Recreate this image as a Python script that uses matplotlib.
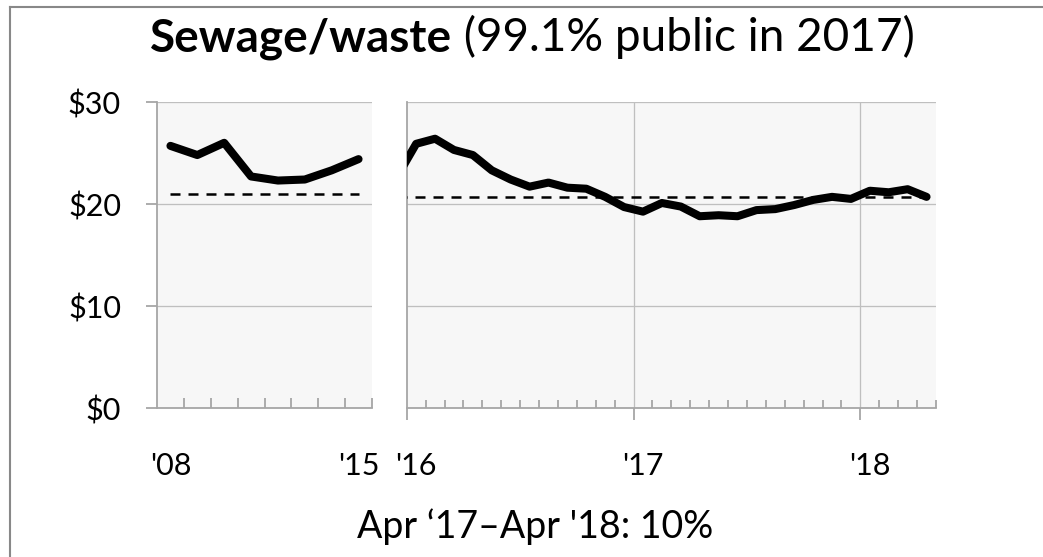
import matplotlib
matplotlib.use('Agg')
import matplotlib.pyplot as plt
from matplotlib.lines import Line2D
from matplotlib.transforms import blended_transform_factory

plt.rcParams['font.family'] = ['Lato', 'DejaVu Sans']

# ---- data ----
left_years = ['2008', '2009', '2010', '2011', '2012', '2013', '2014', '2015']
left_values = [25.7, 24.8, 26.0, 22.7, 22.3, 22.4, 23.3, 24.4]
left_avg = 21.0

right_months = ['Dec 2015',
                'Jan 2016', 'Feb 2016', 'Mar 2016', 'Apr 2016', 'May 2016', 'Jun 2016',
                'Jul 2016', 'Aug 2016', 'Sep 2016', 'Oct 2016', 'Nov 2016', 'Dec 2016',
                'Jan 2017', 'Feb 2017', 'Mar 2017', 'Apr 2017', 'May 2017', 'Jun 2017',
                'Jul 2017', 'Aug 2017', 'Sep 2017', 'Oct 2017', 'Nov 2017', 'Dec 2017',
                'Jan 2018', 'Feb 2018', 'Mar 2018', 'Apr 2018']
right_values = [22.7,
                25.9, 26.4, 25.3, 24.8, 23.3, 22.4,
                21.7, 22.1, 21.6, 21.5, 20.7, 19.7,
                19.25, 20.1, 19.75, 18.8, 18.9, 18.8,
                19.4, 19.5, 19.9, 20.4, 20.7, 20.5,
                21.3, 21.15, 21.45, 20.7]
right_avg = 20.7

y_ticks = [0, 10, 20, 30]
y_labels = ['\\$0', '\\$10', '\\$20', '\\$30']
left_xlabels = {0: "'08", 7: "'15"}
right_xlabels = {'Jan 2016': "'16", 'Jan 2017': "'17", 'Jan 2018': "'18"}
title_bold = 'Sewage/waste'
title_rest = ' (99.1% public in 2017)'
footer = "Apr \u201817\u2013Apr '18: 10%"

# ---- layout ----
W, H = 1043, 557
DPI = 100
PT = 72 / DPI  # points per pixel
fig = plt.figure(figsize=(W / DPI, H / DPI), dpi=DPI)
fig.patch.set_facecolor('white')

bg = '#f7f7f7'
gridc = '#bfbfbf'
spinec = '#a6a6a6'
lab_size = 22
title_size = 33
foot_size = 27

axL = fig.add_axes([157 / W, 1 - 408 / H, 215 / W, 306 / H])
axR = fig.add_axes([406.7 / W, 1 - 408 / H, 529.3 / W, 306 / H])

for ax in (axL, axR):
    ax.set_facecolor(bg)
    ax.set_ylim(0, 30)
    ax.set_yticks(y_ticks)
    ax.yaxis.grid(True, color=gridc, lw=1.3 * PT)
    ax.set_axisbelow(True)
    for s in ('top', 'right'):
        ax.spines[s].set_visible(False)
    for s in ('left', 'bottom'):
        ax.spines[s].set_color(spinec)
        ax.spines[s].set_linewidth(1.3)

# left panel
nL = len(left_years)
xL = [i + 0.5 for i in range(nL)]
axL.set_xlim(0, nL)
axL.set_yticklabels(y_labels, fontsize=lab_size)
axL.tick_params(axis='y', direction='out', length=11 * PT, width=1.3, color=spinec, pad=25 * PT)
axL.set_xticks([])
axL.set_xticks(list(range(1, nL + 1)), minor=True)
axL.tick_params(axis='x', which='minor', direction='in', length=10 * PT, width=1.3, color=spinec)
axL.plot([xL[0], xL[-1]], [left_avg, left_avg], color='black', lw=1.8, dashes=(4, 3.2), zorder=3)
axL.plot(xL, left_values, color='black', lw=5.8, solid_capstyle='round', solid_joinstyle='round', zorder=4)
trL = blended_transform_factory(axL.transData, axL.transAxes)
for i, lab in left_xlabels.items():
    axL.text(xL[i], -0.19, lab, transform=trL, ha='center', va='center', fontsize=lab_size)

# right panel
nR = len(right_months)
xR = [i - 0.5 for i in range(nR)]  # Dec 2015 centred at -0.5, Jan 2016 at 0.5
axR.set_xlim(0, 28)
axR.set_yticklabels([])
axR.tick_params(axis='y', length=0)
axR.set_xticks([0, 12, 24])
axR.set_xticklabels([])
axR.tick_params(axis='x', which='major', direction='out', length=12 * PT, width=1.3, color=spinec)
axR.set_xticks([m for m in range(1, 29) if m % 12 != 0], minor=True)
axR.tick_params(axis='x', which='minor', direction='in', length=8 * PT, width=1.3, color=spinec)
for v in (12, 24):
    axR.axvline(v, color=gridc, lw=1.3 * PT, zorder=1)
axR.plot([xR[0], xR[-1]], [right_avg, right_avg], color='black', lw=1.8, dashes=(4, 3.2), zorder=3)
axR.plot(xR, right_values, color='black', lw=5.8, solid_capstyle='round', solid_joinstyle='round', zorder=4)
trR = blended_transform_factory(axR.transData, axR.transAxes)
for m, lab in right_xlabels.items():
    axR.text(xR[right_months.index(m)], -0.19, lab, transform=trR, ha='center', va='center', fontsize=lab_size)

# title (bold + regular), centred
t1 = fig.text(0, 1 - 51 / H, title_bold, fontsize=title_size, fontweight='bold', ha='left', va='baseline')
t2 = fig.text(0, 1 - 51 / H, title_rest, fontsize=title_size, ha='left', va='baseline')
fig.canvas.draw()
r = fig.canvas.get_renderer()
w1 = t1.get_window_extent(r).width
w2 = t2.get_window_extent(r).width
x0 = 532 - (w1 + w2) / 2
t1.set_x(x0 / W)
t2.set_x((x0 + w1) / W)

# footer
fig.text(535 / W, 1 - 527 / H, footer, fontsize=foot_size, ha='center', va='center')

# outer border (top and left visible)
fig.add_artist(Line2D([10 / W, 1], [1 - 7 / H, 1 - 7 / H], color='#888888', lw=1.5, transform=fig.transFigure))
fig.add_artist(Line2D([10 / W, 10 / W], [1 - 7 / H, 0], color='#888888', lw=1.5, transform=fig.transFigure))

fig.savefig('out.png', dpi=DPI)
